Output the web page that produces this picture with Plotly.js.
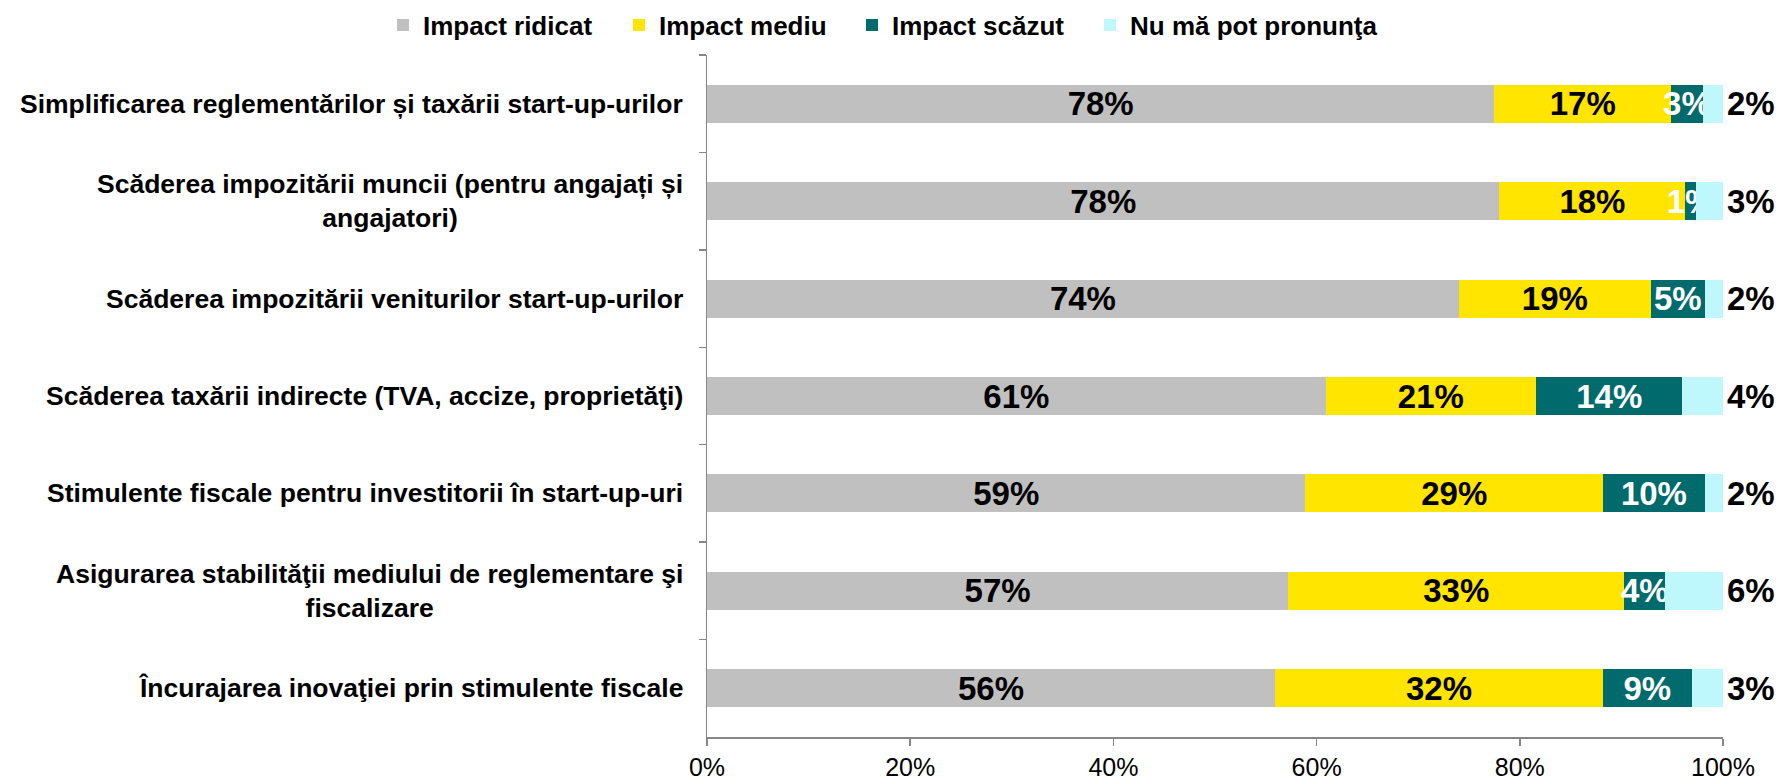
<!DOCTYPE html>
<html>
<head>
<meta charset="utf-8">
<script src="https://cdn.plot.ly/plotly-3.0.1.min.js"></script>
<style>
  body { margin: 0; background: #fff; }
  #chart { width: 1785px; height: 780px; }
</style>
</head>
<body>
<div id="chart"></div>
<script>
// categories, top to bottom
var categories = [
  'Simplificarea reglementărilor și taxării start-up-urilor',
  'Scăderea impozitării muncii (pentru angajați și<br>angajatori)',
  'Scăderea impozitării veniturilor start-up-urilor',
  'Scăderea taxării indirecte (TVA, accize, proprietăţi)',
  'Stimulente fiscale pentru investitorii în start-up-uri',
  'Asigurarea stabilităţii mediului de reglementare şi<br>fiscalizare',
  'Încurajarea inovaţiei prin stimulente fiscale'
];

var seriesNames = ['Impact ridicat', 'Impact mediu', 'Impact scăzut', 'Nu mă pot pronunţa'];

// shares in %
var impactRidicat = [77.5, 78.0, 74.0, 60.9, 58.9, 57.2, 55.9];
var impactMediu   = [17.4, 18.3, 18.9, 20.7, 29.3, 33.1, 32.3];
var impactScazut  = [3.1, 1.0, 5.3, 14.4, 10.0, 4.0, 8.7];
var nuMaPot       = [2.0, 2.7, 1.8, 4.0, 1.8, 5.7, 3.1];

var xTicks = [0, 20, 40, 60, 80, 100];
var xTickText = ['0%', '20%', '40%', '60%', '80%', '100%'];

var colors = ['#C0C0C0', '#FFE500', '#006A6C', '#BFF8FC'];
var labelColors = ['#000000', '#000000', '#FFFFFF', '#000000'];
var values = [impactRidicat, impactMediu, impactScazut, nuMaPot];

// left edge of each legend entry, in px
var legendLeft = [383, 619, 852, 1090];

var fontFamily = '"Liberation Sans", Arial, sans-serif';
var legendNames = ['legend', 'legend2', 'legend3', 'legend4'];

var data = values.map(function (vals, i) {
  var last = i === values.length - 1;
  return {
    type: 'bar',
    orientation: 'h',
    name: seriesNames[i],
    legend: legendNames[i],
    y: categories,
    x: vals,
    marker: { color: colors[i], line: { width: 0 } },
    texttemplate: last ? '' : '%{x:.0f}%',
    textposition: last ? 'none' : 'inside',
    insidetextanchor: 'middle',
    textangle: 0,
    constraintext: 'none',
    cliponaxis: false,
    textfont: { family: fontFamily, size: 33, color: labelColors[i], weight: 'bold' },
    hoverinfo: 'x+name'
  };
});

// category labels: centred lines like the original, right edge near the axis
var annotations = categories.map(function (c) {
  return {
    xref: 'paper', yref: 'y',
    x: 0, y: c,
    xanchor: 'right', yanchor: 'middle',
    xshift: -22,
    align: 'center',
    showarrow: false,
    text: c,
    font: { family: fontFamily, size: 26.5, weight: 'bold', color: '#000000' }
  };
});

// "Nu mă pot pronunţa" labels sit just past the end of each bar
nuMaPot.forEach(function (v, i) {
  var end = impactRidicat[i] + impactMediu[i] + impactScazut[i] + v;
  annotations.push({
    xref: 'x', yref: 'y',
    x: Math.min(100, Math.round(end * 100) / 100),
    y: categories[i],
    xanchor: 'left', yanchor: 'middle',
    xshift: 2,
    showarrow: false,
    text: Math.round(v) + '%',
    font: { family: fontFamily, size: 33, weight: 'bold', color: '#000000' }
  });
});

var layout = {
  width: 1785,
  height: 780,
  barmode: 'stack',
  bargap: 0.61,
  paper_bgcolor: '#ffffff',
  plot_bgcolor: '#ffffff',
  margin: { l: 707, r: 62, t: 55, b: 43 },
  font: { family: fontFamily, color: '#000000' },
  showlegend: true,
  annotations: annotations,
  xaxis: {
    range: [0, 100],
    tickvals: xTicks,
    ticktext: xTickText,
    ticks: 'outside',
    ticklen: 7,
    tickcolor: '#868686',
    tickwidth: 1.5,
    showline: true,
    linecolor: '#868686',
    linewidth: 1.5,
    showgrid: false,
    zeroline: false,
    tickfont: { family: fontFamily, size: 25, color: '#000000' }
  },
  yaxis: {
    type: 'category',
    autorange: 'reversed',
    ticks: 'outside',
    tickson: 'boundaries',
    ticklen: 7,
    tickcolor: '#868686',
    tickwidth: 1.5,
    showline: true,
    linecolor: '#868686',
    linewidth: 1.5,
    showgrid: false,
    zeroline: false,
    showticklabels: false
  }
};

// one small legend per series so the entries can be spaced like the original
legendNames.forEach(function (name, i) {
  layout[name] = {
    orientation: 'h',
    xref: 'container',
    yref: 'container',
    x: legendLeft[i] / 1785,
    xanchor: 'left',
    y: 0.998,
    yanchor: 'top',
    bgcolor: 'rgba(0,0,0,0)',
    font: { family: fontFamily, size: 26, weight: 'bold', color: '#000000' },
    itemclick: false
  };
});

Plotly.newPlot('chart', data, layout, { displayModeBar: false, staticPlot: true });
</script>
</body>
</html>
